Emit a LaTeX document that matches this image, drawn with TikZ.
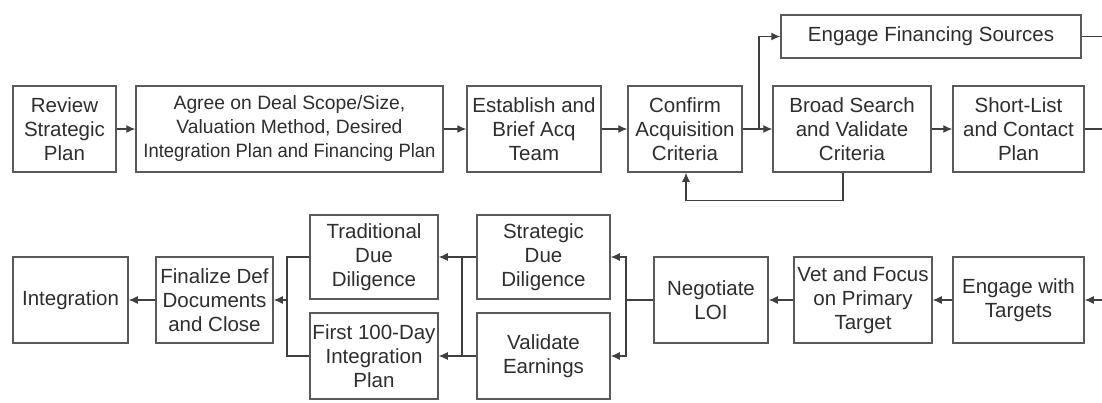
\documentclass[tikz,border=0pt]{standalone}
\usepackage{fontspec}
\usepackage{graphicx}
\setmainfont{Liberation Sans}
\usetikzlibrary{arrows.meta}
\definecolor{boxline}{HTML}{5A5A5A}
\definecolor{conn}{HTML}{404040}
\definecolor{txt}{HTML}{2E2E2E}
\begin{document}
\begin{tikzpicture}[x=1pt,y=-1pt,
  box/.style={draw=boxline, line width=1.5pt, align=center, text=txt, inner sep=0pt,
    font=\fontsize{20.5}{24}\selectfont},
  conn/.style={draw=conn, line width=1.2pt},
  arr/.style={conn, -{Latex[length=9pt,width=8pt]}}]
\useasboundingbox (0,0) rectangle (1102,402);
\fill[white] (0,0) rectangle (1102,402);

% upper row
\node[box, minimum width=103pt, minimum height=86pt] (rsp) at (64.5,129) {Review\\Strategic\\Plan};
\node[box, minimum width=307pt, minimum height=86pt, font=\fontsize{19.3}{24}\selectfont] (agree) at (289.5,129) {Agree on Deal Scope/Size,\\Valuation Method, Desired\\\scalebox{0.955}[1]{Integration Plan and Financing Plan}};
\node[box, minimum width=134pt, minimum height=86pt] (est) at (534,129) {Establish and\\Brief Acq\\Team};
\node[box, minimum width=114pt, minimum height=86pt] (conf) at (685,129) {Confirm\\Acquisition\\Criteria};
\node[box, minimum width=158pt, minimum height=86pt] (broad) at (852,129) {Broad Search\\and Validate\\Criteria};
\node[box, minimum width=131pt, minimum height=86pt] (short) at (1018.5,129) {Short-List\\and Contact\\Plan};
\node[box, minimum width=300pt, minimum height=43pt] (fin) at (931,36.5) {Engage Financing Sources};

% lower row
\node[box, minimum width=115pt, minimum height=86pt] (integ) at (70.5,300) {Integration};
\node[box, minimum width=117pt, minimum height=86pt] (final) at (214.5,300) {Finalize Def\\Documents\\and Close};
\node[box, minimum width=128pt, minimum height=84pt] (trad) at (374,257) {Traditional\\Due\\Diligence};
\node[box, minimum width=128pt, minimum height=86pt] (first) at (374,356) {First 100-Day\\Integration\\Plan};
\node[box, minimum width=133pt, minimum height=84pt] (strat) at (543.5,257) {Strategic\\Due\\Diligence};
\node[box, minimum width=133pt, minimum height=86pt] (valid) at (543.5,356) {Validate\\Earnings};
\node[box, minimum width=114pt, minimum height=86pt] (loi) at (711,300) {Negotiate\\LOI};
\node[box, minimum width=138pt, minimum height=86pt] (vet) at (863,300) {Vet and Focus\\on Primary\\Target};
\node[box, minimum width=131pt, minimum height=86pt] (engt) at (1018.5,300) {Engage with\\Targets};

% junction points
\coordinate (split) at (759,129);
\coordinate (finout) at (1102,36.5);
\coordinate (shortout) at (1102,129);
\coordinate (engin) at (1102,300);
\coordinate (loisplit) at (626,300);
\coordinate (ddbus) at (462,257);
\coordinate (closebus) at (287,300);

% upper row flow
\draw[arr] (rsp) -- (agree);
\draw[arr] (agree) -- (est);
\draw[arr] (est) -- (conf);
\draw[arr] (conf) -- (broad);
\draw[arr] (split) |- (fin.west);
\draw[arr] (broad) -- (short);
\draw[arr] ([xshift=-9pt]broad.south) -- ++(0,28) -| ([xshift=1pt]conf.south);
\draw[conn] (fin.east) -- (finout);
\draw[conn] (short.east) -- (shortout);

% lower row flow
\draw[arr] (engin) -- (engt.east);
\draw[arr] (engt) -- (vet);
\draw[arr] (vet) -- (loi);
\draw[conn] (loi.west) -- (loisplit);
\draw[arr] (loisplit) |- (strat.east);
\draw[arr] (loisplit) |- (valid.east);
\draw[arr] (strat.west) -- (trad.east);
\draw[arr] (valid.west) -- (first.east);
\draw[conn] (ddbus) -- (ddbus |- valid.west);
\draw[conn] (trad.west) -| (closebus) |- (first.west);
\draw[arr] (closebus) -- (final.east);
\draw[arr] (final) -- (integ);
\end{tikzpicture}
\end{document}
